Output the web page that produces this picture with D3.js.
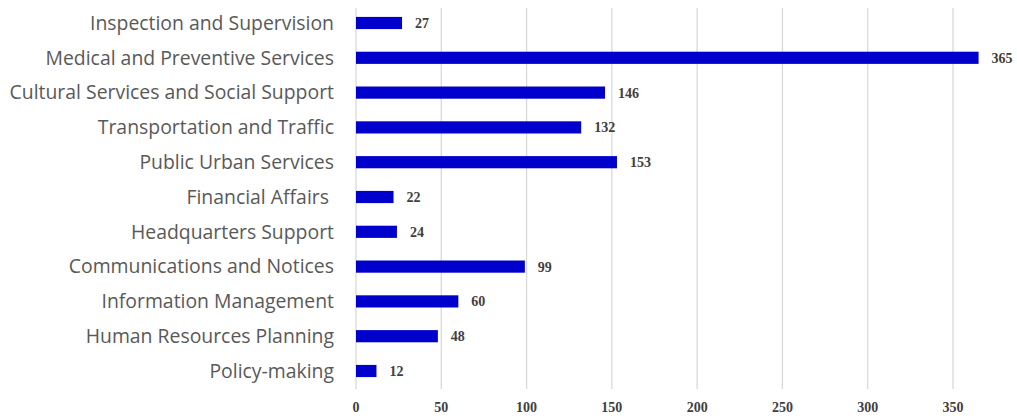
<!DOCTYPE html>
<html>
<head>
<meta charset="utf-8">
<script src="https://cdn.jsdelivr.net/npm/d3@7"></script>
<style>
    body { margin: 0; background: #fff; }
</style>
</head>
<body>
<svg id="chart" width="1017" height="416"></svg>
<script>
const categories = [
    'Inspection and Supervision',
    'Medical and Preventive Services',
    'Cultural Services and Social Support',
    'Transportation and Traffic',
    'Public Urban Services',
    'Financial Affairs ',
    'Headquarters Support',
    'Communications and Notices',
    'Information Management',
    'Human Resources Planning',
    'Policy-making'
]
const values = [27, 365, 146, 132, 153, 22, 24, 99, 60, 48, 12]
const xTicks = [0, 50, 100, 150, 200, 250, 300, 350]

const svg = d3.select('#chart')

const x = d3.scaleLinear()
    .domain([0, 350])
    .range([356, 953])

const y = d3.scaleBand()
    .domain(categories)
    .range([5.6, 388.4])
    .paddingInner(0.65)
    .paddingOuter(0.325)

// gridlines
svg.append('g')
    .selectAll('line')
    .data(xTicks)
    .enter()
    .append('line')
    .attr('x1', d => x(d))
    .attr('x2', d => x(d))
    .attr('y1', 8)
    .attr('y2', 389)
    .style('stroke', '#d9d9d9')
    .style('stroke-width', 1.3)

// bars
svg.append('g')
    .selectAll('rect')
    .data(values)
    .enter()
    .append('rect')
    .attr('x', x(0))
    .attr('y', (d, i) => y(categories[i]))
    .attr('width', d => x(d) - x(0))
    .attr('height', y.bandwidth())
    .attr('fill', '#0000cc')

// value labels
svg.append('g')
    .selectAll('text')
    .data(values)
    .enter()
    .append('text')
    .attr('x', d => x(d) + 13)
    .attr('y', (d, i) => y(categories[i]) + y.bandwidth() / 2)
    .attr('dy', '0.35em')
    .style('font-family', '"Liberation Serif", "Times New Roman", serif')
    .style('font-weight', 'bold')
    .style('font-size', '14px')
    .style('fill', '#404040')
    .text(d => d)

// category labels (keep trailing space, like the original)
svg.append('g')
    .selectAll('text')
    .data(categories)
    .enter()
    .append('text')
    .attr('x', 334)
    .attr('y', d => y(d) + y.bandwidth() / 2)
    .attr('dy', '0.35em')
    .attr('text-anchor', 'end')
    .style('white-space', 'pre')
    .style('font-family', '"Open Sans", "Noto Sans", sans-serif')
    .style('font-size', '19.4px')
    .style('fill', '#595959')
    .text(d => d)

// x tick labels
svg.append('g')
    .selectAll('text')
    .data(xTicks)
    .enter()
    .append('text')
    .attr('x', d => x(d))
    .attr('y', 412)
    .attr('text-anchor', 'middle')
    .style('font-family', '"Liberation Serif", "Times New Roman", serif')
    .style('font-weight', 'bold')
    .style('font-size', '14px')
    .style('fill', '#404040')
    .text(d => d)
</script>
</body>
</html>
